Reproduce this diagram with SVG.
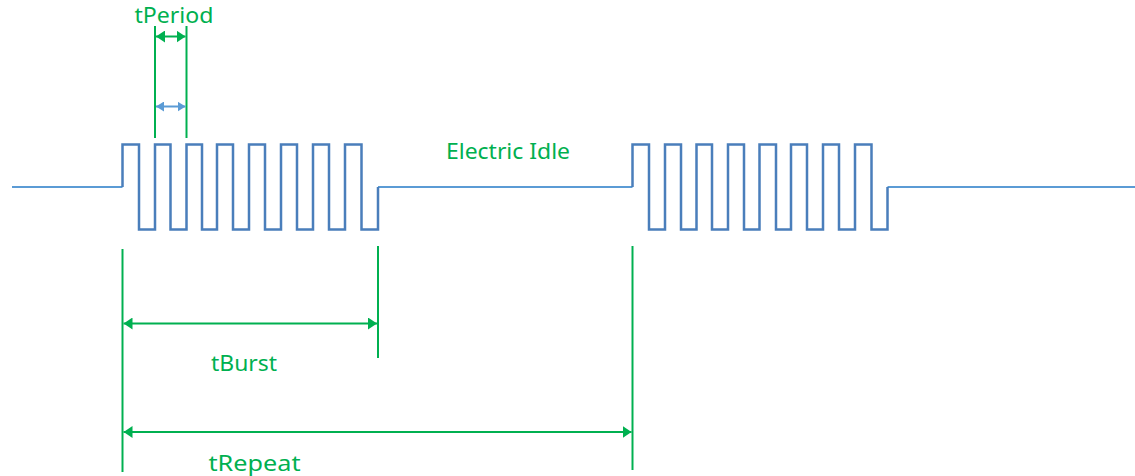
<svg xmlns="http://www.w3.org/2000/svg" width="1135" height="476" viewBox="0 0 1135 476">
<style>
.txt{font-family:"Noto Sans","Open Sans","Liberation Sans",sans-serif;font-size:22px;fill:#00B050}
.g{stroke:#00B050;stroke-width:2;fill:none}
.base{stroke:#5B9BD5;stroke-width:2;fill:none}
.burst{stroke:#4A7EBB;stroke-width:2.5;fill:none;stroke-linejoin:miter}
.bl{stroke:#5B9BD5;stroke-width:2;fill:none}
</style>
<defs>
<marker id="gEnd" markerUnits="userSpaceOnUse" markerWidth="10" markerHeight="12" refX="9" refY="6" orient="auto"><path d="M0,0 L9,6 L0,12 Z" fill="#00B050"/></marker>
<marker id="gStart" markerUnits="userSpaceOnUse" markerWidth="10" markerHeight="12" refX="0" refY="6" orient="auto"><path d="M9,0 L0,6 L9,12 Z" fill="#00B050"/></marker>
<marker id="bEnd" markerUnits="userSpaceOnUse" markerWidth="9" markerHeight="10" refX="8" refY="5" orient="auto"><path d="M0,0 L8,5 L0,10 Z" fill="#5B9BD5"/></marker>
<marker id="bStart" markerUnits="userSpaceOnUse" markerWidth="9" markerHeight="10" refX="0" refY="5" orient="auto"><path d="M8,0 L0,5 L8,10 Z" fill="#5B9BD5"/></marker>
</defs>
<g id="signal">
<path class="base" d="M12,187 H122.5"/>
<path class="base" d="M378,187 H632.5"/>
<path class="base" d="M887.5,187 H1135"/>
<path class="burst" d="M122.5,187 V144.5 H139 V229.5 H155 V144.5 H170.5 V229.5 H186.5 V144.5 H202 V229.5 H217 V144.5 H233 V229.5 H249 V144.5 H265 V229.5 H281 V144.5 H297 V229.5 H313 V144.5 H329 V229.5 H345 V144.5 H361.5 V229.5 H378 V187"/>
<path class="burst" d="M632.5,187 V144.5 H649 V229.5 H665 V144.5 H681 V229.5 H696.5 V144.5 H712 V229.5 H728 V144.5 H744 V229.5 H759.5 V144.5 H776 V229.5 H791 V144.5 H807 V229.5 H823 V144.5 H839 V229.5 H855 V144.5 H871.5 V229.5 H887.5 V187"/>
</g>
<g id="connectors">
<line class="g" x1="155" y1="26" x2="155" y2="138"/>
<line class="g" x1="186.5" y1="26" x2="186.5" y2="138"/>
<line class="g" x1="156" y1="36.5" x2="185.5" y2="36.5" marker-start="url(#gStart)" marker-end="url(#gEnd)"/>
<line class="bl" x1="156" y1="106.5" x2="185.5" y2="106.5" marker-start="url(#bStart)" marker-end="url(#bEnd)"/>
<line class="g" x1="122.5" y1="249" x2="122.5" y2="472"/>
<line class="g" x1="378" y1="246" x2="378" y2="358"/>
<line class="g" x1="632.5" y1="246" x2="632.5" y2="470"/>
<line class="g" x1="123.5" y1="323.5" x2="377" y2="323.5" marker-start="url(#gStart)" marker-end="url(#gEnd)"/>
<line class="g" x1="123.5" y1="432" x2="631.5" y2="432" marker-start="url(#gStart)" marker-end="url(#gEnd)"/>
</g>
<g id="label-tPeriod"><text class="txt" x="134.5" y="22.5" textLength="79" lengthAdjust="spacingAndGlyphs">tPeriod</text></g>
<g id="label-electric-idle"><text class="txt" x="446" y="159" textLength="124" lengthAdjust="spacingAndGlyphs">Electric Idle</text></g>
<g id="label-tBurst"><text class="txt" x="211" y="370.5" textLength="66" lengthAdjust="spacingAndGlyphs">tBurst</text></g>
<g id="label-tRepeat"><text class="txt" x="208.5" y="470.5" textLength="92" lengthAdjust="spacingAndGlyphs">tRepeat</text></g>
</svg>
